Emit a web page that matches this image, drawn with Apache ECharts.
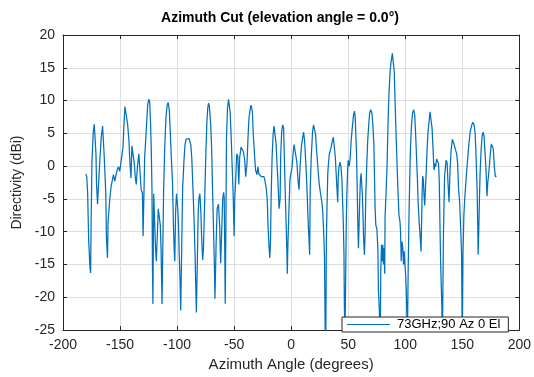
<!DOCTYPE html>
<html>
<head>
<meta charset="utf-8">
<script src="https://cdn.jsdelivr.net/npm/echarts@6/dist/echarts.min.js"></script>
<style>
html,body{margin:0;padding:0;background:#fff;}
#chart{width:534px;height:377px;}
</style>
</head>
<body>
<div id="chart"></div>
<script>
// Azimuth angle (degrees) and directivity (dBi)
var angles = [
-180,-179.2,-178.4,-177.5,-176.4,-175.8,-175.3,-174.6,-173.5,-172.6,-171.7,-171.1,-170.6,-169.7,-168.8,-167.7,-166.5,-165.3,-164.8,-163.9,
-162.5,-161.9,-161,-160.5,-159,-157.8,-156.7,-155.8,-154.6,-153.8,-152.6,-151.4,-150.3,-149.4,-148.6,-147.4,-146.5,-145.7,-145.1,-144.2,
-143.3,-142.2,-141.3,-140.4,-139.6,-138.4,-137.5,-136.7,-135.8,-134.7,-133.5,-132.3,-131.5,-130.4,-129.8,-128.4,-126.9,-125.8,-124.8,-124,
-123.2,-122.6,-122,-121.6,-121.2,-120.5,-119.8,-119,-118.2,-117.3,-116.5,-115.5,-114.7,-114,-113.2,-111.8,-110.8,-109.8,-108.7,-107.8,
-106.8,-105.9,-105,-104,-103.2,-102.5,-102,-101.3,-100.5,-99.6,-98.8,-98.2,-97.4,-96.8,-95.8,-95.1,-94,-93.1,-92.2,-90.8,
-89.4,-87.9,-87.1,-85.9,-85.1,-84.2,-83.6,-83.1,-82.2,-81.6,-80.9,-80,-79.1,-78.5,-77.6,-76.9,-75.8,-74.9,-73.9,-73.1,
-72.4,-71.7,-70.6,-69.7,-68.8,-67.9,-67.3,-66.8,-65.8,-64.9,-63.7,-62.7,-61.8,-61,-60,-59.2,-58.7,-58.2,-57.8,-57.2,
-56.7,-55.8,-54.9,-54.3,-53.5,-52.6,-51.7,-50.9,-50,-49.4,-48.6,-47.7,-46.8,-45.9,-45.1,-43.9,-42.8,-41.9,-40.7,-39.9,
-38.7,-37.8,-37,-35.8,-35.1,-34,-33.2,-32,-31.2,-30,-29.1,-28.3,-27.1,-26.3,-25.1,-23.9,-23.1,-21.9,-21,-20.2,
-19.3,-18.7,-18.1,-17.6,-16.7,-15.8,-15,-14.1,-13.2,-12.4,-11.5,-10.6,-9.7,-9.2,-8.3,-7.4,-6.6,-6,-5.1,-4.2,
-3.7,-3.4,-2.8,-1.9,-1.1,-0.2,0.7,1.7,2.5,3.4,4.3,5.1,6,6.9,7.8,8.9,10.1,10.9,11.8,12.4,
13.3,14.1,15,15.6,16.2,16.7,17.6,18.8,19.6,20.5,21.4,22.2,23.4,24.5,25.7,26.9,27.7,28.6,29.2,29.8,
30.3,30.9,31.5,32.1,32.7,33.5,34.4,35.3,36.1,37,37.9,38.7,39.6,40.2,40.8,41.3,41.9,42.8,43.7,44.5,
45.1,45.7,46.3,46.6,47.1,47.7,48.3,48.9,49.5,50,50.9,51.8,52.6,53.8,54.7,55.5,56.1,56.7,57.3,57.8,
58.4,59,59.6,60.2,60.7,61.3,61.9,62.5,63.1,63.6,64.2,64.8,65.4,66.2,67.1,68,68.8,69.7,70.8,71.6,
72.5,73.1,73.6,74.2,75.1,76,76.5,77.4,78,78.6,79.2,79.7,80.3,80.9,81.5,82,82.3,83.2,84.1,84.7,
85.2,85.8,86.7,87.5,88.7,89.6,90.4,91,91.9,92.8,93.6,94.5,95.4,95.9,96.5,97.1,97.9,98.5,99.1,99.7,
100.3,100.9,101.4,101.8,102.6,103.2,103.8,104.6,105.5,106.4,107.5,108.3,109,109.8,110.7,111.3,112.2,113,113.8,114.4,
114.8,115.3,115.9,116.5,117.1,117.7,118.2,119.1,120,120.9,121.7,122.7,123.5,124.3,125.2,126.1,126.6,127.5,128.4,129.2,
129.8,130.4,131,131.6,132.1,132.5,133.5,134.5,135.8,136.7,137.5,138.4,139.3,140.2,141.3,142.2,143,144.2,145.1,145.9,
146.8,147.7,148.6,149.4,150,150.6,151.4,152.3,153.5,154.6,155.8,157,158.1,159.1,160.4,161.3,162.1,163,163.6,163.9,
164.5,165.1,165.6,166.5,167.4,168.2,169.1,170,170.8,171.7,172.3,172.9,173.7,174.6,175.5,176.4,177.2,178.1,179,180
];
var directivity = [
-1.2,-1.6,-4.1,-11.2,-15.4,-16.3,-7.8,0.8,5.1,6.4,6.1,1.9,-2.8,-5.8,-2.6,0.9,4.4,6.1,6.2,1.6,
-4.1,-11,-14,-8.5,-5,-3.1,-2.1,-1.3,-2.3,-1.6,-0.6,-0.1,-0.8,-1.1,-0.6,2.9,6.6,9.1,9.3,8.8,
6.3,3.9,0.4,-1.8,3.1,3.1,0.4,-1.6,-2.8,0,1.9,2.1,-3.6,-4.1,-10.7,1.4,5.8,9.3,10.2,9.8,
6.3,2.4,-3.6,-15,-21,-4.2,-4.5,-12,-14.5,-10.5,-6.5,-6.2,-9,-13,-21,-3.6,2.9,7.3,9.3,9.7,
8.5,5,1,-2.5,-9,-13,-14.5,-7,-4.2,-6,-8.5,-13,-17.5,-22,-10.7,-3.3,0.7,3.2,4.1,4.4,
4.2,3.2,1.2,-4.3,-8.2,-13.7,-18.6,-22.3,-14.2,-7.7,-5,-4.2,-7.2,-10.7,-14.3,-12.7,-5.2,1.2,6.6,8.9,
9.6,9.1,6.6,2.7,-4.3,-10.7,-15.1,-20.2,-12,-6.5,-5.8,-9,-14.8,-10.5,-5,-4,-4.8,-13,-21,-9,
4.4,8.8,10.2,10,8.3,4.6,-0.1,-4,-10.7,-4.6,-2.1,1.9,1.5,-2.8,1.4,2.9,3.1,2.2,0.9,-1.6,
0.4,4.4,7.3,8.8,9.3,8.3,4.9,1.4,-0.6,-1.3,-0.1,-1.2,-1,-1.6,-1.3,-1.6,-2.1,-3.3,-5,-9.5,
-12.5,-14,-11.5,-5,1.4,4.9,6.1,5.8,3.4,0.4,-2.6,-6.5,-5,1.4,5.3,6.3,5.8,1.5,-4.6,-10,
-13.5,-16.4,-11.5,-6.5,-2.1,-1.1,-0.3,1.9,3.3,3.5,1.4,0.4,-2.1,-3.6,-0.2,2.9,4.4,5.2,3.8,1.9,
-1.1,-4.6,-9,-11,-13.5,-3.6,1.4,5.3,6.3,6.6,4.9,2.6,-0.1,-2.6,-4.1,-5.5,-7,-10.5,-13.5,-24.9,
-28,-11,-5.5,-1.1,0.4,1.9,2.4,3.1,3.9,4.4,4.2,1.4,-1.6,-3.6,-5.5,-1.6,-0.1,0.6,-0.1,-2.1,
-5.5,-8.5,-13.5,-20.4,-27,-18.4,-8.5,-3.6,-0.6,0.9,0,1.4,3.9,6.3,7.8,8.4,7.6,4.9,1.9,-2.6,
-8.5,-12.5,-8.5,-4.6,-2.1,-1.1,-1.3,-4.6,-8.5,-11.5,-13.5,-10.5,-4.6,-0.1,3.9,6.3,8.1,8.6,8.1,6.3,
3.4,-2.1,-6.5,-9,-9.5,-12.5,-18.9,-22.4,-28,-15.4,-12,-14.5,-12,-15,-12.5,-16.4,-7.8,-4.1,0.4,4.9,
8.3,11.3,14.3,15.8,17.2,17,14.3,10.3,5.3,0.4,-3.6,-7.5,-8.5,-10,-14.5,-11.5,-12.5,-15,-13,-15,
-16.4,-18.9,-22.4,-28,-15.4,-8.5,-3.1,2.9,6.3,8.1,8.6,7.8,5.3,1.9,-2.1,-5.5,-8.5,-10.5,-13,-8,
-4.1,-1.5,-2.1,-4.6,-6,-3.5,-1.6,2.4,5.3,6.8,8.3,8.4,5.8,2.9,-0.6,0.4,-0.1,1.1,0.8,0.4,
-2.1,-8.5,-14.5,-18.4,-21.4,-28,-10,-1.5,0.9,0.5,-2.6,-5.5,-0.5,2.4,4.1,4.4,3.2,2.4,1.9,0.4,
-3.6,-5.5,-9.5,-13.5,-28,-13.5,-7.5,-4.6,-1.6,0.9,3.4,5.3,6.1,6.7,6.3,4.9,1.4,-3.6,-9.5,-13.5,
-9.5,-4.6,-1.1,2.4,4.6,5.2,4.6,1.9,-0.6,-4.6,-2.6,-1.6,-0.1,1.9,3.4,3.5,2.6,-0.1,-1.6,-1.5
];
var seriesName = '73GHz;90 Az 0 El';
var titleText = 'Azimuth Cut (elevation angle = 0.0\u00B0)';
var xName = 'Azimuth Angle (degrees)';
var yName = 'Directivity (dBi)';
var xRange = [-200, 200, 50];
var yRange = [-25, 20, 5];

var points = angles.map(function (a, i) { return [a, directivity[i]]; });

var axisColor = '#262626';
var gridColor = '#dedede';
var font = 'Liberation Sans, Arial, Helvetica, sans-serif';

function boxAxis(pos, r) {
  return {
    type: 'value', position: pos, min: r[0], max: r[1], interval: r[2],
    axisLine: { show: true, onZero: false, lineStyle: { color: axisColor, width: 1 } },
    axisTick: { show: true, inside: true, length: 4, lineStyle: { color: axisColor } },
    axisLabel: { show: false },
    splitLine: { show: false }
  };
}

var chart = echarts.init(document.getElementById('chart'), null, { renderer: 'canvas' });
chart.setOption({
  animation: false,
  backgroundColor: '#ffffff',
  title: {
    text: titleText, left: 275, top: 6, textAlign: 'center',
    textStyle: { fontFamily: font, fontSize: 14, fontWeight: 'bold', color: '#000' }
  },
  legend: {
    data: [seriesName], left: 342, top: 317,
    icon: 'rect', itemWidth: 43, itemHeight: 1, itemGap: 0,
    padding: [1, 8, 1, 5],
    backgroundColor: '#ffffff', borderColor: axisColor, borderWidth: 1,
    textStyle: { fontFamily: font, fontSize: 13, color: '#000', padding: [0, 0, 0, 2] }
  },
  grid: { left: 63, right: 10, top: 35, bottom: 39, containLabel: false },
  xAxis: [
    {
      type: 'value', min: xRange[0], max: xRange[1], interval: xRange[2],
      name: xName, nameLocation: 'middle', nameGap: 24,
      nameTextStyle: { fontFamily: font, fontSize: 15, color: axisColor },
      axisLine: { show: true, onZero: false, lineStyle: { color: axisColor, width: 1 } },
      axisTick: { show: true, inside: true, length: 4, lineStyle: { color: axisColor } },
      axisLabel: { fontFamily: font, fontSize: 14, color: axisColor, margin: 8 },
      splitLine: { show: true, lineStyle: { color: gridColor, width: 1 } }
    },
    boxAxis('top', xRange)
  ],
  yAxis: [
    {
      type: 'value', min: yRange[0], max: yRange[1], interval: yRange[2],
      name: yName, nameLocation: 'middle', nameGap: 33, nameRotate: 90,
      nameTextStyle: { fontFamily: font, fontSize: 14, color: axisColor },
      axisLine: { show: true, onZero: false, lineStyle: { color: axisColor, width: 1 } },
      axisTick: { show: true, inside: true, length: 4, lineStyle: { color: axisColor } },
      axisLabel: { fontFamily: font, fontSize: 14, color: axisColor, margin: 8 },
      splitLine: { show: true, lineStyle: { color: gridColor, width: 1 } }
    },
    boxAxis('right', yRange)
  ],
  series: [{
    name: seriesName, type: 'line', xAxisIndex: 0, yAxisIndex: 0,
    data: points, showSymbol: false, symbol: 'none', clip: true,
    lineStyle: { color: '#0072BD', width: 1.25 }, itemStyle: { color: '#0072BD' }
  }]
});
</script>
</body>
</html>
